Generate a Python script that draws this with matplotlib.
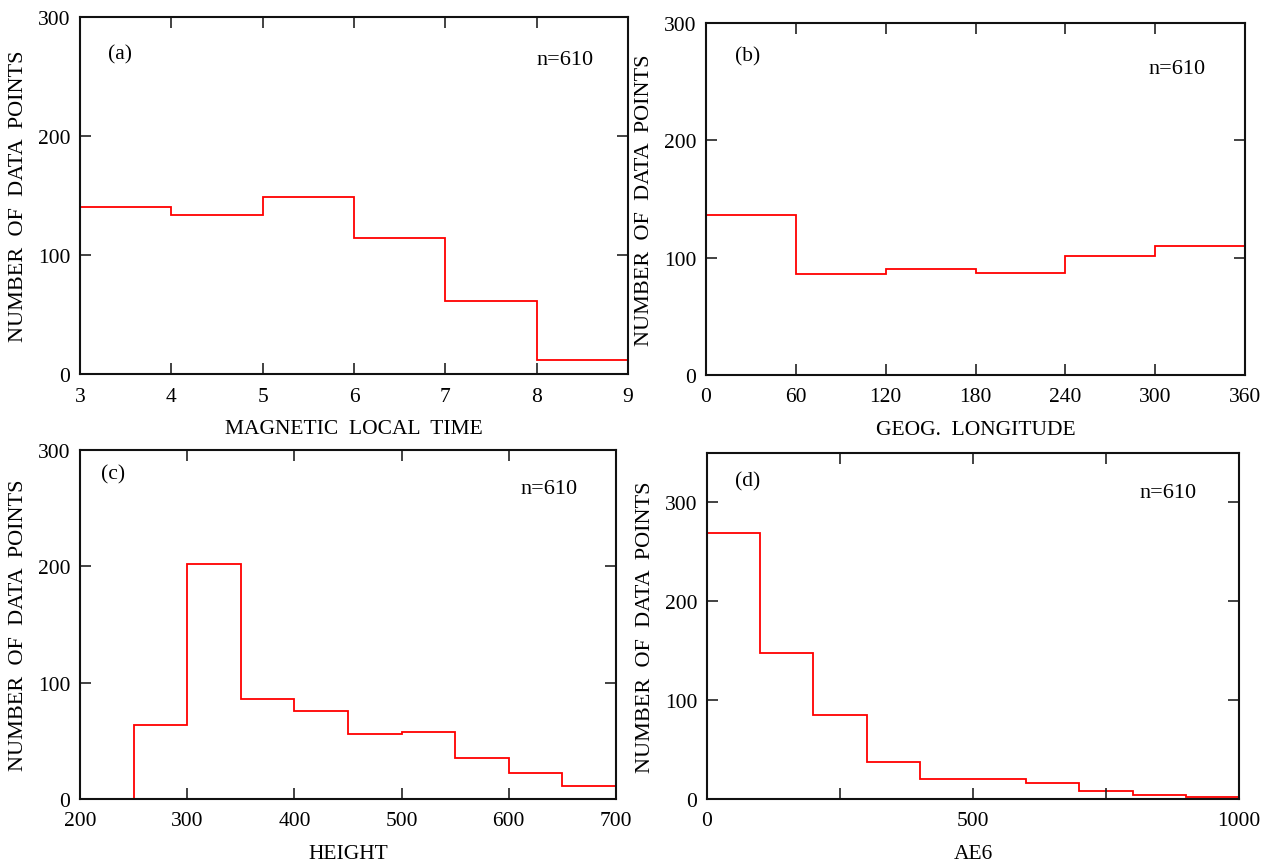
import matplotlib
matplotlib.use("Agg")
import matplotlib.pyplot as plt
from matplotlib.ticker import FixedLocator, FuncFormatter

plt.rcParams["font.family"] = ["Liberation Serif", "DejaVu Serif"]

# histogram data
mlt_edges = [3, 4, 5, 6, 7, 8, 9]
mlt_counts = [140, 134, 149, 114, 61, 12]

lon_edges = [0, 60, 120, 180, 240, 300, 360]
lon_counts = [136, 86, 90, 87, 101, 110]

height_edges = [250, 300, 350, 400, 450, 500, 550, 600, 650, 700]
height_counts = [64, 202, 86, 76, 56, 58, 35, 22, 11]

ae6_edges = [0, 100, 200, 300, 400, 500, 600, 700, 800, 900, 1000]
ae6_counts = [269, 148, 85, 37, 20, 20, 16, 8, 4, 2]

W, H = 1272, 862
fig = plt.figure(figsize=(W / 100, H / 100), dpi=100)


def box(left, right, top, bottom):
    return [left / W, 1 - bottom / H, (right - left) / W, (bottom - top) / H]


panels = [
    dict(rect=box(80, 628, 18, 375), edges=mlt_edges, counts=mlt_counts,
         xlim=(3, 9), xticks=[3, 4, 5, 6, 7, 8, 9], xshow=None,
         ylim=(0, 300), yticks=[0, 100, 200, 300],
         xlabel="MAGNETIC  LOCAL  TIME", tag="(a)", tagpos=(0.073, 0.896), npos=(0.885, 0.88)),
    dict(rect=box(706, 1245, 24, 376), edges=lon_edges, counts=lon_counts,
         xlim=(0, 360), xticks=[0, 60, 120, 180, 240, 300, 360], xshow=None,
         ylim=(0, 300), yticks=[0, 100, 200, 300],
         xlabel="GEOG.  LONGITUDE", tag="(b)", tagpos=(0.078, 0.906), npos=(0.874, 0.872)),
    dict(rect=box(80, 616, 451, 800), edges=height_edges, counts=height_counts,
         xlim=(200, 700), xticks=[200, 300, 400, 500, 600, 700], xshow=None,
         ylim=(0, 300), yticks=[0, 100, 200, 300],
         xlabel="HEIGHT", tag="(c)", tagpos=(0.062, 0.931), npos=(0.875, 0.891)),
    dict(rect=box(707, 1239, 454, 800), edges=ae6_edges, counts=ae6_counts,
         xlim=(0, 1000), xticks=[0, 250, 500, 750, 1000], xshow=[0, 500, 1000],
         ylim=(0, 350), yticks=[0, 100, 200, 300],
         xlabel="AE6", tag="(d)", tagpos=(0.077, 0.919), npos=(0.867, 0.887)),
]

for p in panels:
    ax = fig.add_axes(p["rect"])
    ax.stairs(p["counts"], p["edges"], color="red", linewidth=1.3, baseline=0)
    ax.set_xlim(*p["xlim"])
    ax.set_ylim(*p["ylim"])
    ax.xaxis.set_major_locator(FixedLocator(p["xticks"]))
    ax.yaxis.set_major_locator(FixedLocator(p["yticks"]))
    if p["xshow"] is not None:
        shown = p["xshow"]
        ax.xaxis.set_major_formatter(FuncFormatter(lambda v, pos, s=shown: f"{v:g}" if v in s else ""))
    ax.tick_params(direction="in", length=8, width=1.2, top=True, right=True,
                   labelsize=15.5, color="#222222")
    ax.tick_params(axis="x", pad=9)
    ax.tick_params(axis="y", pad=7)
    for s in ax.spines.values():
        s.set_linewidth(1.5)
        s.set_color("#111111")
    ax.set_xlabel(p["xlabel"], fontsize=15.5, labelpad=10)
    ax.set_ylabel("NUMBER  OF  DATA  POINTS", fontsize=16, labelpad=7)
    ax.text(*p["tagpos"], p["tag"], transform=ax.transAxes, fontsize=15.5, ha="center", va="center")
    ax.text(*p["npos"], "n=610", transform=ax.transAxes, fontsize=16, ha="center", va="center")

fig.savefig("out.png", dpi=100)
